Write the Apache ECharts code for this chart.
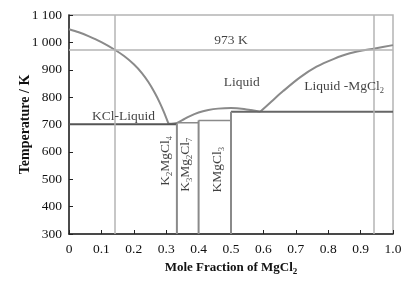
<!DOCTYPE html>
<html>
<head>
<meta charset="utf-8">
<script src="https://cdn.jsdelivr.net/npm/echarts@6/dist/echarts.min.js"></script>
<style>
  html, body { margin: 0; padding: 0; background: #fff; }
  #phase { width: 419px; height: 295px; }
</style>
</head>
<body>
<div id="phase"></div>
<script>
// liquidus curves: [mole fraction MgCl2, T / K]
const kclLiquidus = [[0, 1048], [0.03, 1037], [0.06, 1023], [0.10, 1001], [0.14, 974], [0.17, 950], [0.20, 920], [0.225, 888], [0.245, 855], [0.265, 815], [0.28, 780], [0.293, 745], [0.307, 703]];
const compoundDome = [[0.307, 703], [0.333, 706], [0.35, 716], [0.37, 729], [0.40, 744], [0.43, 753], [0.46, 758], [0.50, 760], [0.54, 757], [0.57, 751], [0.59, 747]];
const mgcl2Liquidus = [[0.59, 747], [0.625, 784], [0.661, 822], [0.713, 872], [0.764, 911], [0.816, 939], [0.867, 960], [0.944, 978], [1.0, 990]];

// solidus / compound lines
const eutectic = [[0, 701], [0.333, 701]];
const compoundX = [0.333, 0.4, 0.5];
const compoundTop = [703, 715, 747];
const k3Solidus = [[0.333, 706], [0.4, 706]];
const kmSolidus = [[0.4, 715], [0.5, 715]];
const peritectic = [[0.5, 747], [1.0, 747]];

// reference lines
const refTemps = [973];
const refFractions = [0.14, 0.94];

// text annotations
const labelTexts = ['973 K', 'Liquid', 'KCl-Liquid', '{n|Liquid -MgCl}{s|2}', '{n|K}{s|2}{n|MgCl}{s|4}', '{n|K}{s|3}{n|Mg}{s|2}{n|Cl}{s|7}', '{n|KMgCl}{s|3}'];
const labelPos = [[0.5, 1008], [0.533, 855], [0.168, 729], [0.849, 838], [0.298, 567], [0.36, 553], [0.458, 535]];
const labelRotate = [0, 0, 0, 0, 90, 90, 90];

const serif = '"Liberation Serif", "DejaVu Serif", serif';
const richText = {
  n: { fontFamily: serif, fontSize: 13.5, color: '#111' },
  s: { fontFamily: serif, fontSize: 8.5, color: '#111', padding: [8, 0, 0, 0] }
};

const chart = echarts.init(document.getElementById('phase'));

function seg(data, color, width) {
  return {
    type: 'line', data: data, showSymbol: false, symbol: 'none', silent: true,
    lineStyle: { color: color, width: width }, z: 3
  };
}

const series = [
  Object.assign(seg(kclLiquidus, '#8a8a8a', 2), { smooth: 0.3 }),
  Object.assign(seg(compoundDome, '#8a8a8a', 2), { smooth: 0.3 }),
  Object.assign(seg(mgcl2Liquidus, '#8a8a8a', 2), { smooth: 0.3 }),
  seg(eutectic, '#555', 2),
  seg(k3Solidus, '#8a8a8a', 1.5),
  seg(kmSolidus, '#8a8a8a', 1.5),
  seg(peritectic, '#666', 2)
];
compoundX.forEach(function (x, i) {
  series.push(seg([[x, compoundTop[i]], [x, 300]], '#8a8a8a', 2));
});

// reference lines as markLine on an empty series
series.push({
  type: 'line', data: [], silent: true, z: 2,
  markLine: {
    symbol: 'none', silent: true, label: { show: false },
    lineStyle: { color: '#b4b4b4', width: 1.5, type: 'solid' },
    data: refTemps.map(t => ({ yAxis: t })).concat(refFractions.map(f => ({ xAxis: f })))
  }
});

series.push({
  type: 'scatter', symbolSize: 0, silent: true, z: 5,
  data: labelPos.map((p, i) => ({
    value: p,
    label: {
      show: true, position: 'inside', formatter: labelTexts[i], rotate: labelRotate[i],
      fontFamily: serif, fontSize: 13.5, color: '#111', rich: richText
    }
  }))
});

chart.setOption({
  animation: false,
  grid: { left: 69, right: 26, top: 15, bottom: 61, show: true, borderColor: '#b4b4b4', borderWidth: 1.5 },
  xAxis: {
    type: 'value', min: 0, max: 1, interval: 0.1,
    name: '{b|Mole Fraction of MgCl}{s|2}', nameLocation: 'middle', nameGap: 24,
    nameTextStyle: {
      rich: {
        b: { fontFamily: serif, fontSize: 13, fontWeight: 'bold', color: '#111' },
        s: { fontFamily: serif, fontSize: 9, fontWeight: 'bold', color: '#111', padding: [8, 0, 0, 0] }
      }
    },
    axisLine: { lineStyle: { color: '#222', width: 1.5 } },
    axisTick: { inside: true, length: 4, lineStyle: { color: '#222' } },
    axisLabel: {
      fontFamily: serif, fontSize: 13.5, color: '#111', margin: 8,
      formatter: v => v === 0 ? '0' : v.toFixed(1)
    },
    splitLine: { show: false }
  },
  yAxis: {
    type: 'value', min: 300, max: 1100, interval: 100,
    name: 'Temperature / K', nameLocation: 'middle', nameGap: 37, nameMoveOverlap: false,
    nameTextStyle: { fontFamily: serif, fontSize: 14, fontWeight: 'bold', color: '#111' },
    axisLine: { show: true, lineStyle: { color: '#222', width: 1.5 } },
    axisTick: { show: true, inside: true, length: 4, lineStyle: { color: '#222' } },
    axisLabel: {
      fontFamily: serif, fontSize: 13.5, color: '#111', margin: 7,
      formatter: v => v >= 1000 ? '1 ' + String(v).slice(1) : String(v)
    },
    splitLine: { show: false }
  },
  series: series
});
</script>
</body>
</html>
